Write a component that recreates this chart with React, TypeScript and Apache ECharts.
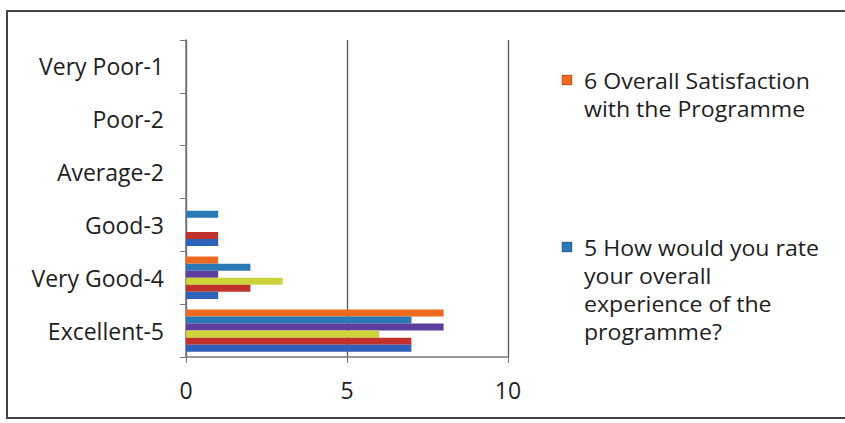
import React, { useEffect, useRef } from "react";
import * as echarts from "echarts";

// Categories listed bottom-to-top (ECharts category axis starts at the bottom)
const categories = ["Excellent-5", "Very Good-4", "Good-3", "Average-2", "Poor-2", "Very Poor-1"];

// Series values per category (bottom-to-top order, matching categories)
const q1Values = [7, 1, 1, 0, 0, 0];
const q2Values = [7, 2, 1, 0, 0, 0];
const q3Values = [6, 3, 0, 0, 0, 0];
const q4Values = [8, 1, 0, 0, 0, 0];
const q5Values = [7, 2, 1, 0, 0, 0];
const q6Values = [8, 1, 0, 0, 0, 0];

const seriesNames = [
  "1",
  "2",
  "3",
  "4",
  "5 How would you rate your overall experience of the programme?",
  "6 Overall Satisfaction with the Programme",
];
const seriesValues = [q1Values, q2Values, q3Values, q4Values, q5Values, q6Values];
const seriesColors = ["#2E62B8", "#C0312B", "#CDD43A", "#5B3E9E", "#2A78B4", "#EE6A1F"];

// Legend shows only the last two series (as in the reference), one entry per wrapped line
const legendLabels = [
  ["6 Overall Satisfaction", "with the Programme"],
  ["5 How would you rate", "your overall", "experience of the", "programme?"],
];
const legendSeriesIndex = [5, 4];

const xTicks = { min: 0, max: 10, interval: 5 };

const FONT = "'Open Sans', 'Noto Sans', sans-serif";

export default function App() {
  const ref = useRef<HTMLDivElement>(null);

  useEffect(() => {
    if (!ref.current) return;
    const chart = echarts.init(ref.current, null, { renderer: "svg" });

    const legendFirstLine = [80, 247];
    const lineStep = 28;
    const legendGraphics: any[] = [];
    legendLabels.forEach((lines, i) => {
      const y0 = legendFirstLine[i];
      legendGraphics.push({
        type: "rect",
        shape: { x: 562, y: y0 - 5, width: 10, height: 10 },
        style: { fill: seriesColors[legendSeriesIndex[i]], stroke: "rgba(0,0,0,0.35)", lineWidth: 0.8 },
        silent: true,
      });
      lines.forEach((line, j) => {
        legendGraphics.push({
          type: "text",
          x: 584,
          y: y0 + j * lineStep,
          scaleX: 1.1,
          style: {
            text: line,
            font: `21px ${FONT}`,
            fill: "#1e1e1e",
            verticalAlign: "middle",
            textVerticalAlign: "middle",
            align: "left",
          },
          silent: true,
        });
      });
    });

    // Draw series in reverse so that series 6 (orange) sits at the top of each group
    const order = seriesNames.map((_, i) => seriesNames.length - 1 - i);

    chart.setOption({
      animation: false,
      backgroundColor: "#ffffff",
      grid: { left: 186, top: 40, width: 322, height: 317, containLabel: false },
      xAxis: {
        type: "value",
        min: xTicks.min,
        max: xTicks.max,
        interval: xTicks.interval,
        axisLine: { show: true, lineStyle: { color: "#777", width: 1.5 } },
        axisTick: { show: true, length: 6, lineStyle: { color: "#777" } },
        splitLine: { show: true, lineStyle: { color: "#555", width: 1.3 } },
        axisLabel: { color: "#1e1e1e", fontSize: 23, fontFamily: FONT, margin: 21 },
      },
      yAxis: {
        type: "category",
        data: categories,
        axisLine: { show: true, lineStyle: { color: "#777", width: 1.5 } },
        axisTick: { show: true, length: 6, lineStyle: { color: "#777" } },
        splitLine: { show: false },
        axisLabel: { color: "#1e1e1e", fontSize: 23, fontFamily: FONT, margin: 22 },
      },
      series: order.map((i) => ({
        type: "bar",
        name: seriesNames[i],
        data: seriesValues[i],
        barGap: "0%",
        barCategoryGap: "20%",
        itemStyle: { color: seriesColors[i] },
        silent: true,
      })),
      graphic: [
        {
          type: "rect",
          shape: { x: 7, y: 11, width: 860, height: 407 },
          style: { fill: "none", stroke: "#444", lineWidth: 2 },
          silent: true,
        },
        ...legendGraphics,
      ],
    });

    return () => chart.dispose();
  }, []);

  return (
    <div
      ref={ref}
      style={{ position: "fixed", left: 0, top: 0, width: 845, height: 423 }}
    />
  );
}
